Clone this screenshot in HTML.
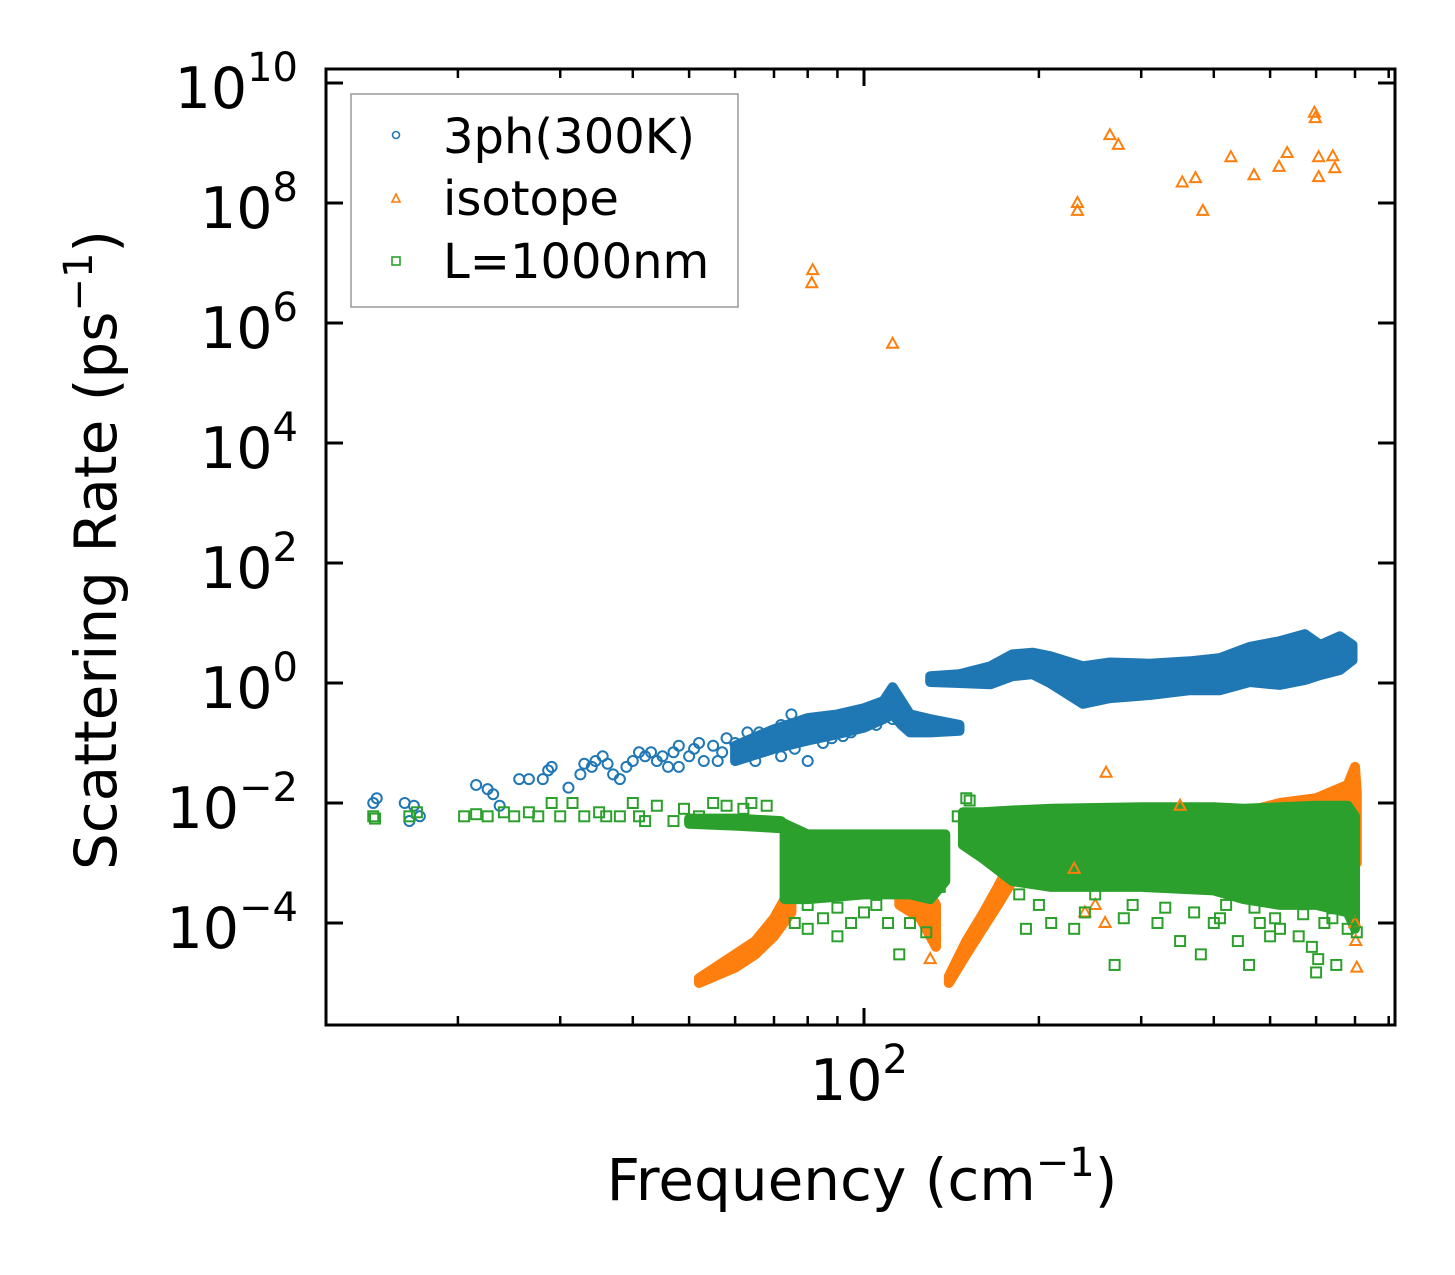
<!DOCTYPE html>
<html><head><meta charset="utf-8">
<style>
html,body{margin:0;padding:0;background:#fff;}
svg{display:block;font-family:"DejaVu Sans","Liberation Sans",sans-serif;}
</style></head>
<body>
<svg id="chart" width="1455" height="1275" viewBox="0 0 1455 1275" xmlns="http://www.w3.org/2000/svg">
<rect x="0" y="0" width="1455" height="1275" fill="#fff"/>
<g id="bands"></g>
<g id="pts"></g>
<g id="axes"></g>
<g>
<rect x="351" y="94" width="387" height="213" fill="#fff" fill-opacity="0.85" stroke="#999" stroke-width="1.5"/>
<circle cx="396" cy="135" r="3.5" fill="none" stroke="#1f77b4" stroke-width="1.6"/>
<text x="443" y="153" font-size="48">3ph(300K)</text>
<polygon points="396,194 392,202 400,202" fill="none" stroke="#ff7f0e" stroke-width="1.6"/>
<text x="443" y="215" font-size="48">isotope</text>
<rect x="392" y="257" width="8" height="8" fill="none" stroke="#2ca02c" stroke-width="1.6"/>
<text x="443" y="278" font-size="48">L=1000nm</text>
</g>
<text x="862" y="1200" font-size="58" text-anchor="middle">Frequency (cm<tspan dy="-24" font-size="40">−1</tspan><tspan dy="24">)</tspan></text>
<text transform="translate(116,550) rotate(-90)" font-size="58" text-anchor="middle">Scattering Rate (ps<tspan dy="-24" font-size="40">−1</tspan><tspan dy="24">)</tspan></text>
</svg>
<script>
// ---- data ----
const yTickExps = [-4, -2, 0, 2, 4, 6, 8, 10];
const xMajorExps = [2];
const xMinorTicks = [20,30,40,50,60,70,80,90,200,300,400,500,600,700,800];

// dense envelopes: [freq, low rate, high rate]
const blueBandA = [[60,0.05,0.09],[70,0.08,0.17],[80,0.11,0.26],[90,0.14,0.3],[100,0.18,0.38],[108,0.25,0.5],[112,0.3,0.85],[116,0.2,0.5],[120,0.15,0.3],[130,0.15,0.25],[146,0.16,0.2]];
const blueBandB = [[130,1.04,1.3],[146,1.0,1.4],[165,0.95,1.9],[180,1.3,3.0],[195,1.4,3.2],[209,1.0,2.8],[238,0.45,1.9],[265,0.56,2.2],[310,0.63,2.1],[364,0.76,2.3],[410,0.76,2.6],[461,1.04,4.0],[520,0.93,5.0],[574,1.12,6.5],[610,1.36,4.3],[659,1.65,6.0],[693,2.4,4.3]];
const orangeBand1 = [[52,1e-5,1.2e-5],[60,1.8e-5,3e-5],[65,3e-5,5e-5],[70,6e-5,1.2e-4],[75,1.5e-4,4e-4]];
const orangeBand2 = [[115,2e-4,1e-3],[125,1.2e-4,6e-4],[133,4e-5,2e-4]];
const orangeBand3 = [[140,1e-5,1.3e-5],[150,3e-5,5e-5],[160,8e-5,1.4e-4],[170,2e-4,4e-4],[180,5e-4,1.2e-3]];
const orangeBand4 = [[450,2e-3,7e-3],[520,3e-3,1e-2],[600,3e-3,1.2e-2],[680,3e-3,2e-2],[700,2e-3,4e-2],[705,1e-3,1.5e-2]];
const greenBand0 = [[50,0.0045,0.0055],[60,0.0042,0.0055],[72,0.0038,0.005]];
const greenBand1 = [[73,2.5e-4,4.5e-3],[80,2.5e-4,3e-3],[100,3e-4,3e-3],[120,3e-4,3e-3],[130,2.5e-4,3e-3],[138,5e-4,3e-3]];
const greenBand2 = [[148,2e-3,7e-3],[160,1.2e-3,7e-3],[180,5e-4,7.5e-3],[210,4e-4,8e-3],[300,4e-4,8.5e-3],[400,3.5e-4,8.5e-3],[450,2.5e-4,8e-3],[520,2e-4,8.5e-3],[600,2e-4,9e-3],[680,1.5e-4,9e-3],[700,8e-5,6e-3]];

// scatter points: [freq, rate]
const bluePts = [[14.3,0.01],[14.5,0.012],[16.2,0.01],[16.5,0.005],[16.8,0.009],[17.2,0.006],[21.5,0.02],[22.5,0.017],[23,0.014],[23.6,0.009],[25.5,0.025],[26.5,0.025],[28,0.025],[28.6,0.035],[29,0.04],[31,0.018],[32.5,0.03],[33,0.045],[34,0.04],[34.5,0.05],[35.5,0.06],[36.2,0.045],[37,0.03],[38,0.025],[39,0.04],[40,0.05],[41,0.07],[42,0.06],[43,0.07],[44,0.05],[45,0.06],[46,0.04],[47,0.07],[48,0.09],[50,0.06],[51,0.08],[52,0.1],[53,0.05],[55,0.09],[57,0.07],[58,0.12],[60,0.1],[62,0.08],[63,0.15],[64,0.11],[66,0.15],[68,0.12],[72,0.2],[75,0.3],[65,0.05],[72,0.06],[80,0.05],[76,0.08],[88,0.12],[95,0.15],[105,0.2],[112,0.25],[48,0.04],[56,0.05],[61,0.06],[70,0.09],[85,0.1],[92,0.13]];
const orangePts = [[81.6,7.6e6],[81.3,4.6e6],[112,4.5e5],[233,1e8],[233,7.4e7],[265,1.35e9],[274,9.3e8],[353,2.2e8],[372,2.6e8],[383,7.4e7],[428,5.8e8],[469,2.9e8],[518,4e8],[535,6.8e8],[596,3.2e9],[598,2.6e9],[606,5.8e8],[606,2.7e8],[641,6e8],[646,3.8e8],[261,0.032],[350,0.009],[230,8e-4],[240,1.5e-4],[250,2e-4],[260,1e-4],[705,1.8e-5],[702,5e-5],[700,1e-4],[130,2.5e-5],[132,1e-4]];
const greenPts = [[14.3,0.006],[14.4,0.0055],[16.5,0.006],[17,0.007],[20.5,0.006],[21.5,0.0065],[22.5,0.006],[24,0.007],[25,0.006],[26.5,0.007],[27.5,0.006],[29,0.01],[30,0.006],[31.5,0.01],[33,0.006],[35,0.007],[36,0.006],[38,0.006],[40,0.01],[41,0.006],[42,0.005],[44,0.009],[47,0.005],[49,0.008],[52,0.006],[55,0.01],[58,0.009],[62,0.008],[64,0.01],[68,0.009],[76,1e-4],[80,8e-5],[85,1.2e-4],[90,6e-5],[95,1e-4],[100,1.5e-4],[110,1e-4],[115,3e-5],[120,1e-4],[128,7e-5],[135,4e-4],[150,0.012],[152,0.011],[145,0.006],[185,3e-4],[190,8e-5],[210,1e-4],[230,8e-5],[250,3e-4],[270,2e-5],[290,2e-4],[320,1e-4],[350,5e-5],[380,3e-5],[400,1e-4],[420,2e-4],[440,5e-5],[460,2e-5],[480,1e-4],[500,6e-5],[520,8e-5],[540,3e-4],[560,6e-5],[590,4e-5],[620,1e-4],[650,2e-5],[680,8e-5],[705,7e-5],[600,1.5e-5],[605,2.5e-5],[80,2e-4],[90,1.8e-4],[105,2e-4],[200,2e-4],[240,1.5e-4],[280,1.2e-4],[330,1.8e-4],[370,1.5e-4],[410,1.2e-4],[470,1.8e-4],[510,1.2e-4],[570,1.4e-4],[640,1.2e-4],[690,1.5e-4]];

// ---- axes ----
const X = f => 864 + 581 * (Math.log10(f) - 2);
const Y = r => 683 - 60 * Math.log10(r);
const L = 326, R = 1395, T = 69, B = 1025;
const NS = 'http://www.w3.org/2000/svg';
function mk(tag, attrs, parent) {
  const e = document.createElementNS(NS, tag);
  for (const k in attrs) e.setAttribute(k, attrs[k]);
  parent.appendChild(e);
  return e;
}
const bands = document.getElementById('bands');
const pts = document.getElementById('pts');
const axes = document.getElementById('axes');

function band(data, color, sw, name) {
  const top = data.map(d => X(d[0]).toFixed(1) + ',' + Y(d[2]).toFixed(1));
  const bot = data.slice().reverse().map(d => X(d[0]).toFixed(1) + ',' + Y(d[1]).toFixed(1));
  const p = mk('polygon', {points: top.concat(bot).join(' '), fill: color, stroke: color, 'stroke-width': sw, 'stroke-linejoin': 'round'}, bands);
  
  
}
band(blueBandA, '#1f77b4', 10, 'band-3ph-low');
band(blueBandB, '#1f77b4', 10, 'band-3ph-high');
band(orangeBand1, '#ff7f0e', 10, 'band-isotope-1');
band(orangeBand2, '#ff7f0e', 10, 'band-isotope-2');
band(orangeBand3, '#ff7f0e', 10, 'band-isotope-3');
band(orangeBand4, '#ff7f0e', 10, 'band-isotope-4');
band(greenBand0, '#2ca02c', 10, 'band-boundary-0');
band(greenBand1, '#2ca02c', 10, 'band-boundary-1');
band(greenBand2, '#2ca02c', 10, 'band-boundary-2');

bluePts.forEach(d => {
  const c = mk('circle', {cx: X(d[0]), cy: Y(d[1]), r: 5, fill: 'none', stroke: '#1f77b4', 'stroke-width': 2}, pts);
  
  
});
orangePts.forEach(d => {
  const x = X(d[0]), y = Y(d[1]);
  const c = mk('polygon', {points: `${x},${y-6} ${x-5.5},${y+4} ${x+5.5},${y+4}`, fill: 'none', stroke: '#ff7f0e', 'stroke-width': 2}, pts);
  
  
});
greenPts.forEach(d => {
  const x = X(d[0]), y = Y(d[1]);
  const c = mk('rect', {x: x-5, y: y-5, width: 10, height: 10, fill: 'none', stroke: '#2ca02c', 'stroke-width': 2}, pts);
  
  
});

// frame
const fr = mk('rect', {x: L, y: T, width: R-L, height: B-T, fill: 'none', stroke: '#000', 'stroke-width': 3}, axes);



yTickExps.forEach(e => {
  const y = Y(Math.pow(10, e));
  const t1 = mk('line', {x1: L, x2: L+17, y1: y, y2: y, stroke: '#000', 'stroke-width': 3}, axes);
  
  
  const t2 = mk('line', {x1: R, x2: R-17, y1: y, y2: y, stroke: '#000', 'stroke-width': 3}, axes);
  
  
  const tx = mk('text', {x: 298, y: y + 25, 'font-size': 57, 'text-anchor': 'end'}, axes);
  
  
  tx.innerHTML = '10<tspan dy="-27" font-size="40">' + (e < 0 ? '−' + (-e) : e) + '</tspan>';
});
xMajorExps.forEach(e => {
  const x = X(Math.pow(10, e));
  const t1 = mk('line', {x1: x, x2: x, y1: B, y2: B-17, stroke: '#000', 'stroke-width': 3}, axes);
  
  
  const t2 = mk('line', {x1: x, x2: x, y1: T, y2: T+17, stroke: '#000', 'stroke-width': 3}, axes);
  
  
  const tx = mk('text', {x: x - 5, y: 1100, 'font-size': 57, 'text-anchor': 'middle'}, axes);
  
  
  tx.innerHTML = '10<tspan dy="-27" font-size="40">' + e + '</tspan>';
});
xMinorTicks.forEach(f => {
  const x = X(f);
  const t1 = mk('line', {x1: x, x2: x, y1: B, y2: B-9, stroke: '#000', 'stroke-width': 2.5}, axes);
  
  
  const t2 = mk('line', {x1: x, x2: x, y1: T, y2: T+9, stroke: '#000', 'stroke-width': 2.5}, axes);
  
  
});
</script>
</body></html>
